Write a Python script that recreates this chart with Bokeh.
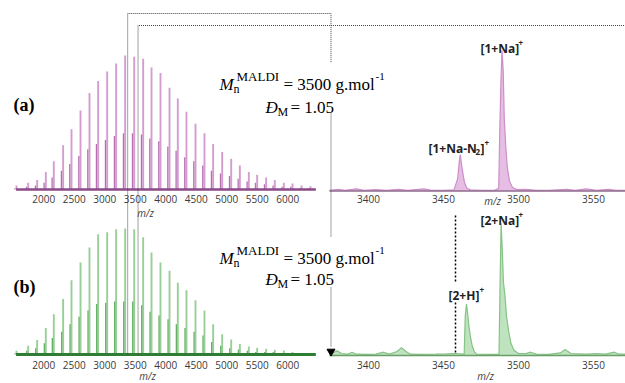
from bokeh.plotting import figure
from bokeh.models import Range1d, LinearAxis, FixedTicker
from bokeh.core.properties import value
from bokeh.embed import file_html
from bokeh.resources import INLINE

W, H = 625, 383

# ---------------- data ----------------
ticks_wide = [2000, 2500, 3000, 3500, 4000, 4500, 5000, 5500, 6000]
ticks_zoom = [3400, 3450, 3500, 3550]

peak_mz = [1553, 1744, 1891, 2033, 2164, 2317, 2454, 2602, 2749, 2891, 3039, 3186,
           3334, 3482, 3629, 3766, 3913, 4061, 4197, 4339, 4487, 4634, 4776, 4924,
           5072, 5214, 5361, 5498, 5645, 5787, 5935, 6077, 6225, 6372]
peak_a = [3, 5, 7, 13, 21, 33, 45, 59, 72, 81, 88, 94, 100, 99, 97.5, 91, 87, 76,
          68, 58, 49, 42, 34, 28, 23, 18, 13, 11, 9, 7, 5, 4.5, 3, 2.5]
peak_b = [3, 7, 11.6, 21, 32, 44, 59, 73, 85, 95.5, 97, 99.5, 100, 99.5, 93, 81,
          73, 66.5, 57, 51, 43, 35, 24, 16, 12, 8.4, 6.3, 5.3, 4.5, 3.7, 3.2, 2, 1.3, 0.8]
side_a = [1, 2, 3, 5, 9, 14, 19, 25, 30, 34, 37, 40, 42, 42, 41, 38, 36, 32,
          29, 24, 21, 18, 14, 12, 10, 8, 6, 5, 4, 3, 2, 2, 1, 1]
side_b = [1, 3, 5, 9, 13, 18, 24, 30, 35, 40, 41, 42, 42, 42, 39, 34,
          31, 28, 24, 21, 18, 15, 10, 7, 5, 4, 3, 2, 2, 2, 1, 1, 1, 0.5]

zoom_a_mz = [3374, 3380, 3384, 3392, 3397, 3405, 3412, 3420, 3426, 3437, 3442, 3450,
             3457, 3459.5, 3460.5, 3461.2, 3462, 3463, 3464, 3465.5, 3468, 3475, 3484,
             3486.8, 3487.5, 3488.3, 3489, 3489.8, 3490.5, 3491.5, 3492.5, 3494, 3496,
             3499, 3505, 3512, 3520, 3532, 3538, 3545, 3552, 3560, 3565, 3571]
zoom_a_int = [0.5, 1.2, 0.5, 1.5, 0.5, 1, 0.5, 1.2, 0.5, 1.5, 0.5, 0.5,
              0.8, 9, 21, 26, 19, 12, 6, 2, 0.8, 0.5, 0.5,
              2, 42, 78, 100, 86, 52, 32, 17, 7, 2.5,
              1, 1.2, 0.5, 0.5, 1.2, 0.5, 1.5, 0.5, 1.2, 0.5, 0.5]

zoom_b_mz = [3374, 3377, 3379, 3382, 3386, 3389, 3392, 3400, 3405, 3410, 3414, 3419,
             3422, 3425, 3428, 3435, 3445, 3452, 3458, 3463.8, 3464.5, 3465.3, 3466,
             3467, 3468, 3469, 3470.5, 3472, 3480, 3487, 3487.6, 3488.4, 3489.2, 3490,
             3491, 3492, 3493.5, 3495, 3497, 3500, 3505, 3508, 3512, 3520, 3528, 3531,
             3535, 3545, 3552, 3558, 3564, 3567, 3571]
zoom_b_int = [1, 2.5, 3.5, 1.5, 1, 2.5, 1, 0.8, 1, 2.5, 1, 3,
              6, 3, 1, 0.8, 1, 1.2, 1.5, 1, 30, 39, 33,
              22, 14, 8, 3, 1, 0.8, 0.8, 45, 100, 80, 55,
              45, 30, 18, 9, 4, 1.5, 1.5, 2.5, 1, 0.8, 2, 4.5,
              1.5, 1, 1.5, 1, 2.5, 1, 1]

window_mz = [3375, 3545]      # zoom window marked on the wide spectra
marker_mz = 3458              # dotted guide in panel (b) zoom

# ---------------- helpers for ranges ----------------
def lin_range(v0, p0, v1, p1, size):
    k = (v1 - v0) / (p1 - p0)
    start = v0 - p0 * k
    return Range1d(start=start, end=start + size * k)


xr_wide = lin_range(2000, 43.3, 6000, 287.3, W)
xr_zoom = lin_range(3400, 368, 3550, 593, W)


def to_px(r, v):
    return (v - r.start) / (r.end - r.start) * W


p = figure(width=W, height=H, x_range=Range1d(0, W), y_range=Range1d(H, 0),
           output_backend="svg", toolbar_location=None, min_border=0,
           x_axis_type=None, y_axis_type=None)
p.outline_line_color = None
p.background_fill_color = "white"
p.border_fill_color = "white"

p.extra_x_ranges = {"wide": xr_wide, "zoom": xr_zoom}
p.extra_y_ranges = {
    "ya": lin_range(0, H - 189, 100, H - 55, H),
    "yb": lin_range(0, H - 354, 100, H - 228, H),
    "yza": lin_range(0, H - 190.5, 100, H - 50, H),
    "yzb": lin_range(0, H - 355, 100, H - 223, H),
}

# ---------------- wide spectra ----------------
off_a = [m - 28 for m in peak_mz]
off_b = [m - 24 for m in peak_mz]
zeros = [0] * len(peak_mz)

p.segment(x0=peak_mz, y0=zeros, x1=peak_mz, y1=peak_a, x_range_name="wide",
          y_range_name="ya", line_color="#d49cd0", line_width=1.9)
p.segment(x0=off_a, y0=zeros, x1=off_a, y1=side_a, x_range_name="wide",
          y_range_name="ya", line_color="#b56fb1", line_width=1.3)
p.line(x=[1545, 6460], y=[0, 0], x_range_name="wide", y_range_name="ya",
       line_color="#8b4a88", line_width=2.5)

p.segment(x0=peak_mz, y0=zeros, x1=peak_mz, y1=peak_b, x_range_name="wide",
          y_range_name="yb", line_color="#97cf97", line_width=1.9)
p.segment(x0=off_b, y0=zeros, x1=off_b, y1=side_b, x_range_name="wide",
          y_range_name="yb", line_color="#64b064", line_width=1.3)
p.line(x=[1545, 6460], y=[0, 0], x_range_name="wide", y_range_name="yb",
       line_color="#2f7d32", line_width=3)

# ---------------- zoomed spectra ----------------
p.varea(x=zoom_a_mz, y1=[0] * len(zoom_a_mz), y2=zoom_a_int, x_range_name="zoom",
        y_range_name="yza", fill_color="#e6bde3")
p.line(x=zoom_a_mz, y=zoom_a_int, x_range_name="zoom", y_range_name="yza",
       line_color="#cc8fc8", line_width=1.2)
p.line(x=[3374, 3575], y=[0, 0], x_range_name="zoom", y_range_name="yza",
       line_color="#8f6b8c", line_width=1.5)

p.varea(x=zoom_b_mz, y1=[0] * len(zoom_b_mz), y2=zoom_b_int, x_range_name="zoom",
        y_range_name="yzb", fill_color="#bfe2bf")
p.line(x=zoom_b_mz, y=zoom_b_int, x_range_name="zoom", y_range_name="yzb",
       line_color="#86c386", line_width=1.2)
p.line(x=[3374, 3575], y=[0, 0], x_range_name="zoom", y_range_name="yzb",
       line_color="#6a9f6a", line_width=1.5)

# ---------------- axes ----------------
def add_axis(rname, ticks, loc, bounds):
    ax = LinearAxis(x_range_name=rname, ticker=FixedTicker(ticks=ticks),
                    fixed_location=loc, bounds=bounds)
    ax.axis_line_color = None
    ax.major_tick_line_color = None
    ax.minor_tick_line_color = None
    ax.major_tick_out = 0
    ax.major_tick_in = 0
    ax.major_label_standoff = 2
    ax.major_label_text_font = "Open Sans"
    ax.major_label_text_font_size = "10px"
    ax.major_label_text_color = "#3a3a3a"
    p.add_layout(ax, "below")


add_axis("wide", ticks_wide, 192, (1545, 6460))
add_axis("zoom", ticks_zoom, 192, (3374, 3575))
add_axis("wide", ticks_wide, 358, (1545, 6460))
add_axis("zoom", ticks_zoom, 358, (3374, 3575))

# ---------------- connectors ----------------
dot = dict(line_color="#444444", line_width=1, line_dash="1 1")
x1 = to_px(xr_wide, window_mz[0])
x2 = to_px(xr_wide, window_mz[1])
xz = to_px(xr_zoom, window_mz[0])
p.line(x=[x1, x1, xz, xz], y=[354, 13, 13, 62], **dot)
p.line(x=[xz, xz], y=[113, 237], **dot)
p.line(x=[xz, xz], y=[287, 347], **dot)
p.line(x=[x2, x2, W], y=[354, 25, 25], **dot)
p.scatter(x=[xz], y=[351], marker="inverted_triangle", size=8, color="black")

xm = to_px(xr_zoom, marker_mz)
p.line(x=[xm, xm], y=[215, 281], line_color="black", line_width=1.5, line_dash="2 2")
p.line(x=[xm, xm], y=[302, 352], line_color="black", line_width=1.5, line_dash="2 2")

# ---------------- texts ----------------
def txt(x, y, s, font="Liberation Serif", size="17px", style="normal",
        color="black", align="left", baseline="alphabetic"):
    p.text(x=[x], y=[y], text=[s], text_font=value(font), text_font_size=size,
           text_font_style=style, text_color=color, text_align=align,
           text_baseline=baseline)


txt(13, 104, "(a)", size="18px", style="bold")
txt(13, 286, "(b)", size="18px", style="bold")

for base in (84, 258):
    txt(219, base, "M", style="italic")
    txt(233, base + 4, "n", size="12px")
    txt(236, base - 8, "MALDI", size="13px")
    txt(283, base, "= 3500 g.mol")
    txt(375, base - 8, "-1", size="11px")

for base in (107, 279):
    txt(265, base, "\u0110", style="italic")
    txt(277, base + 4, "M", size="12px")
    txt(290, base, "= 1.05")

sans = "Open Sans"
for x0, yc, s in ((145, 212, "m/z"), (147, 375, "m/z"), (492, 200, "m/z"), (485, 375, "m/z")):
    txt(x0, yc, s, font=sans, size="10px", style="italic", color="#3a3a3a",
        align="center", baseline="middle")

# peak labels
txt(480, 48, "[1+Na]", font=sans, size="12px", style="bold", color="#222")
txt(518, 42, "+", font=sans, size="8px", style="bold", color="#222")

txt(428, 148, "[1+Na-N", font=sans, size="12px", style="bold", color="#222")
txt(475, 151, "2", font=sans, size="8px", style="bold", color="#222")
txt(480, 148, "]", font=sans, size="12px", style="bold", color="#222")
txt(484, 142, "+", font=sans, size="8px", style="bold", color="#222")

txt(480, 220, "[2+Na]", font=sans, size="12px", style="bold", color="#222")
txt(518, 214, "+", font=sans, size="8px", style="bold", color="#222")

txt(448, 295, "[2+H]", font=sans, size="12px", style="bold", color="#222")
txt(479, 289, "+", font=sans, size="8px", style="bold", color="#222")

open("out.html", "w").write(file_html(p, INLINE))
